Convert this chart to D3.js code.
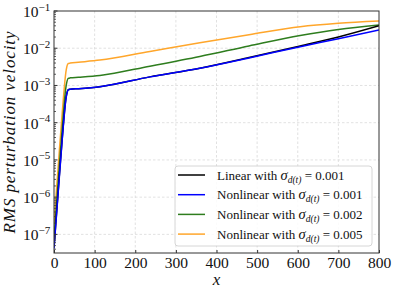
<!DOCTYPE html>
<html lang="en">
    <head>
        <meta charset="utf-8">
        <title>RMS perturbation velocity</title>
        <script src="https://d3js.org/d3.v7.min.js"></script>
        <style type="text/css">
            body{
                margin: 0;
                background: white;
            }
            svg{
                display: block;
            }
            svg text{
                font-family: "Liberation Serif", "Times New Roman", "DejaVu Serif", serif;
            }
            .grid line{
                stroke: #d9d9d9;
                stroke-width: 0.8;
                stroke-dasharray: 2.5,2;
            }
        </style>
    </head>
    <body>
        <svg width="393" height="289"></svg>
        <script type="text/javascript">

            // data (x, velocity)
            const xLinear = [0, 10, 20, 30, 35, 40, 60, 113, 236, 359, 480, 606, 700, 800];
            const linearVals = [4.5e-8, 1.3e-6, 3.5e-5, 5.0e-4, 7.7e-4, 7.9e-4, 8.2e-4, 9.3e-4, 1.7e-3, 2.9e-3, 5.6e-3, 1.15e-2, 2.0e-2, 4.0e-2];

            const xNl1 = [0, 10, 20, 30, 35, 40, 60, 113, 236, 359, 480, 606, 700, 800];
            const nl1Vals = [4.2e-8, 1.2e-6, 3.3e-5, 4.8e-4, 7.6e-4, 7.9e-4, 8.2e-4, 9.3e-4, 1.7e-3, 2.9e-3, 5.5e-3, 1.1e-2, 1.8e-2, 3.1e-2];

            const xNl2 = [0, 10, 20, 30, 35, 40, 60, 113, 236, 359, 480, 606, 700, 800];
            const nl2Vals = [8.0e-8, 2.4e-6, 6.8e-5, 1.0e-3, 1.55e-3, 1.6e-3, 1.66e-3, 1.86e-3, 3.3e-3, 6.0e-3, 1.15e-2, 2.2e-2, 3.2e-2, 4.2e-2];

            const xNl5 = [0, 10, 20, 30, 35, 40, 60, 113, 236, 359, 480, 606, 700, 800];
            const nl5Vals = [2.0e-7, 6.0e-6, 1.7e-4, 2.6e-3, 3.9e-3, 4.0e-3, 4.2e-3, 4.8e-3, 8.2e-3, 1.4e-2, 2.3e-2, 3.8e-2, 4.7e-2, 5.4e-2];

            const seriesNames = ["Linear with ", "Nonlinear with ", "Nonlinear with ", "Nonlinear with "];
            const sigmaVals = ["0.001", "0.001", "0.002", "0.005"];
            const seriesColors = ["#000000", "#0000ff", "#2e7d1e", "#ffa62b"];

            const xTicks = [0, 100, 200, 300, 400, 500, 600, 700, 800];
            const yTicks = [-7, -6, -5, -4, -3, -2, -1];

            const margin = {left: 54, right: 14, top: 11, bottom: 36};
            const width = 393;
            const height = 289;
            const serif = "Liberation Serif, Times New Roman, DejaVu Serif, serif";

            const svg = d3.select("svg");

            const xScale = d3.scaleLinear()
                    .domain([0, 800])
                    .range([margin.left, width - margin.right]);

            const yScale = d3.scaleLog()
                    .domain([Math.pow(10, -7.5), 0.1])
                    .range([height - margin.bottom, margin.top]);

            // grid
            svg.append("g")
                .attr("class", "grid")
                .selectAll("line")
                .data(xTicks.slice(1, -1))
                .join("line")
                .attr("x1", d => xScale(d))
                .attr("x2", d => xScale(d))
                .attr("y1", margin.top)
                .attr("y2", height - margin.bottom);

            svg.append("g")
                .attr("class", "grid")
                .selectAll("line")
                .data(yTicks.slice(0, -1))
                .join("line")
                .attr("x1", margin.left)
                .attr("x2", width - margin.right)
                .attr("y1", d => yScale(Math.pow(10, d)))
                .attr("y2", d => yScale(Math.pow(10, d)));

            // curves
            const allSeries = [
                {xs: xLinear, ys: linearVals},
                {xs: xNl1, ys: nl1Vals},
                {xs: xNl2, ys: nl2Vals},
                {xs: xNl5, ys: nl5Vals}
            ];

            const line = d3.line()
                    .x(d => xScale(d[0]))
                    .y(d => yScale(d[1]))
                    .curve(d3.curveMonotoneX);

            svg.append("defs").append("clipPath")
                .attr("id", "clip")
                .append("rect")
                .attr("x", margin.left)
                .attr("y", margin.top)
                .attr("width", width - margin.left - margin.right)
                .attr("height", height - margin.top - margin.bottom);

            // orange, green, black, then blue on top
            const drawOrder = [3, 2, 0, 1];
            drawOrder.forEach(i => {
                const pts = allSeries[i].xs.map((x, j) => [x, allSeries[i].ys[j]]);
                svg.append("path")
                    .attr("d", line(pts))
                    .attr("fill", "none")
                    .attr("stroke", seriesColors[i])
                    .attr("stroke-width", 1.5)
                    .attr("clip-path", "url(#clip)");
            });

            // axes (ticks inward)
            const botAxis = d3.axisBottom(xScale)
                    .tickValues(xTicks)
                    .tickSize(-3)
                    .tickPadding(4);

            const gx = svg.append("g")
                .attr("transform", "translate(0," + (height - margin.bottom) + ")")
                .call(botAxis);
            gx.attr("font-family", serif);
            gx.select(".domain").remove();
            gx.selectAll("line").attr("stroke", "#333");
            gx.selectAll("text")
                .attr("font-size", "15.5px")
                .attr("fill", "#111")
                .style("font-family", serif);

            // minor ticks for log axis
            const minorVals = [];
            for (let e = -8; e <= -2; e++) {
                for (let m = 2; m <= 9; m++) {
                    const v = m * Math.pow(10, e);
                    if (v >= Math.pow(10, -7.5) && v <= 0.1) minorVals.push(v);
                }
            }
            svg.append("g")
                .selectAll("line")
                .data(minorVals)
                .join("line")
                .attr("x1", margin.left)
                .attr("x2", margin.left + 2)
                .attr("y1", d => yScale(d))
                .attr("y2", d => yScale(d))
                .attr("stroke", "#333")
                .attr("stroke-width", 0.8);

            const gy = svg.append("g");
            gy.selectAll("line")
                .data(yTicks)
                .join("line")
                .attr("x1", margin.left)
                .attr("x2", margin.left + 3.5)
                .attr("y1", d => yScale(Math.pow(10, d)))
                .attr("y2", d => yScale(Math.pow(10, d)));

            gy.selectAll("line").attr("stroke", "#333");

            const yLab = gy.selectAll("text")
                .data(yTicks)
                .join("text")
                .attr("x", 23)
                .attr("y", d => yScale(Math.pow(10, d)) + 6)
                .attr("font-size", "15.5px")
                .attr("fill", "#111")
                .style("font-family", serif);
            yLab.append("tspan").text("10");
            yLab.append("tspan")
                .attr("dy", -6.5)
                .attr("font-size", "11px")
                .text(d => "\u2212" + Math.abs(d));

            // frame
            svg.append("rect")
                .attr("x", margin.left)
                .attr("y", margin.top)
                .attr("width", width - margin.left - margin.right)
                .attr("height", height - margin.top - margin.bottom)
                .attr("fill", "none")
                .attr("stroke", "#333")
                .attr("stroke-width", 1);

            // axis titles
            svg.append("text")
                .attr("transform", "translate(15," + ((margin.top + height - margin.bottom) / 2) + ") rotate(-90)")
                .attr("text-anchor", "middle")
                .attr("font-size", "17px")
                .attr("font-style", "italic")
                .attr("letter-spacing", "0.9px")
                .attr("fill", "#111")
                .style("font-family", serif)
                .text("RMS perturbation velocity");

            svg.append("text")
                .attr("x", (margin.left + width - margin.right) / 2)
                .attr("y", 285)
                .attr("text-anchor", "middle")
                .attr("font-size", "17px")
                .attr("font-style", "italic")
                .attr("fill", "#111")
                .style("font-family", serif)
                .text("x");

            // legend
            const legend = svg.append("g");
            legend.append("rect")
                .attr("x", 175)
                .attr("y", 166)
                .attr("width", 197)
                .attr("height", 80)
                .attr("rx", 3)
                .attr("fill", "white")
                .attr("fill-opacity", 0.85)
                .attr("stroke", "#cccccc")
                .attr("stroke-width", 0.8);

            const rows = legend.selectAll("g.row")
                .data(d3.range(4))
                .join("g")
                .attr("class", "row")
                .attr("transform", i => "translate(0," + (175 + i * 19.7) + ")");

            rows.append("line")
                .attr("x1", 178)
                .attr("x2", 205)
                .attr("stroke", i => seriesColors[i])
                .attr("stroke-width", 1.5);

            const lt = rows.append("text")
                .attr("x", 217)
                .attr("y", 4.5)
                .attr("font-size", "13px")
                .attr("fill", "#111")
                .style("font-family", serif);
            lt.append("tspan").text(i => seriesNames[i]);
            lt.append("tspan").attr("font-style", "italic").attr("font-size", "14.5px").text("\u03c3");
            lt.append("tspan").attr("font-style", "italic").attr("font-size", "9.5px").attr("dy", 3).text("d(t)");
            lt.append("tspan").attr("dy", -3).text(i => " = " + sigmaVals[i]);

        </script>
    </body>
</html>
